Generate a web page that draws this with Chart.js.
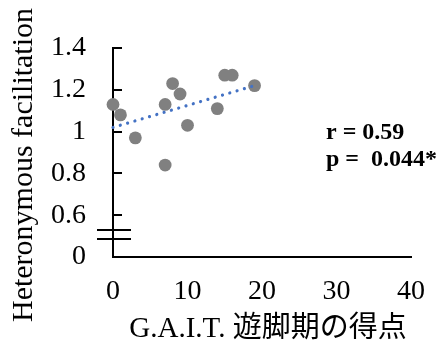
<!DOCTYPE html>
<html>
<head>
<meta charset="utf-8">
<script src="https://cdn.jsdelivr.net/npm/chart.js@4/dist/chart.umd.min.js"></script>
<style>
  html, body { margin: 0; padding: 0; background: #fff; }
  #wrap { width: 443px; height: 347px; position: relative; }
</style>
</head>
<body>
<div id="wrap"><canvas id="chart"></canvas></div>
<script>
// data
const gaitScores = [0, 1, 3, 7, 7, 8, 9, 10, 14, 15, 16, 19];
const facilitation = [1.13, 1.08, 0.97, 0.84, 1.13, 1.23, 1.18, 1.03, 1.11, 1.27, 1.27, 1.22];
const trendX = [0, 19];
const trendY = [1.02, 1.22];
const yTickValues = [0.4, 0.6, 0.8, 1.0, 1.2, 1.4];
const yTickLabels = ['0', '0.6', '0.8', '1', '1.2', '1.4'];
const xTickValues = [0, 10, 20, 30, 40];
const statLines = ['r = 0.59', 'p =  0.044*'];
const xTitle = 'G.A.I.T. 遊脚期の得点';
const yTitle = 'Heteronymous facilitation';

const serif = "'Liberation Serif', 'Times New Roman', serif";

// inward ticks, axis break, stats and titles
const extras = {
    id: 'extras',
    afterDraw(chart) {
        const ctx = chart.ctx;
        const xs = chart.scales.x, ys = chart.scales.y;
        const x0 = xs.getPixelForValue(0);
        ctx.save();
        ctx.strokeStyle = '#000';
        ctx.lineWidth = 2;
        // y ticks pointing right
        yTickValues.slice(1).forEach(v => {
            const y = Math.round(ys.getPixelForValue(v));
            ctx.beginPath();
            ctx.moveTo(x0, y);
            ctx.lineTo(x0 + 9, y);
            ctx.stroke();
        });
        // break marks
        [0.528, 0.485].forEach(v => {
            const y = Math.round(ys.getPixelForValue(v));
            ctx.beginPath();
            ctx.moveTo(x0 - 16, y);
            ctx.lineTo(x0 + 18, y);
            ctx.stroke();
        });

        ctx.fillStyle = '#000';
        ctx.font = 'bold 24px ' + serif;
        ctx.textAlign = 'left';
        ctx.textBaseline = 'alphabetic';
        ctx.fillText(statLines[0], 326, 139);
        ctx.fillText(statLines[1], 326, 166);

        ctx.font = "29px 'Liberation Serif', 'Noto Sans CJK JP', serif";
        ctx.textAlign = 'center';
        ctx.fillText(xTitle, 268, 337);

        ctx.translate(32, 165);
        ctx.rotate(-Math.PI / 2);
        ctx.font = '30px ' + serif;
        ctx.fillText(yTitle, 0, 0);
        ctx.restore();
    }
};

new Chart(document.getElementById('chart'), {
    data: {
        datasets: [
            {
                type: 'line',
                data: trendX.map((x, i) => ({ x: x, y: trendY[i] })),
                borderColor: '#4472C4',
                borderWidth: 3.2,
                borderDash: [0.01, 7.6],
                borderCapStyle: 'round',
                pointRadius: 0,
                fill: false,
                clip: false,
                order: 0
            },
            {
                type: 'scatter',
                data: gaitScores.map((x, i) => ({ x: x, y: facilitation[i] })),
                backgroundColor: '#808080',
                borderColor: '#808080',
                borderWidth: 0,
                pointRadius: 6.4,
                clip: false,
                order: 1
            }
        ]
    },
    options: {
        responsive: true,
        maintainAspectRatio: false,
        animation: false,
        layout: { padding: { top: 48, right: 29, left: 0, bottom: 0 } },
        plugins: { legend: { display: false }, tooltip: { enabled: false } },
        scales: {
            x: {
                type: 'linear',
                min: 0,
                max: 40,
                afterBuildTicks: s => { s.ticks = xTickValues.map(v => ({ value: v })); },
                afterFit: s => { s.height = 90; },
                grid: { display: false, drawTicks: false },
                border: { display: true, color: '#000', width: 2 },
                ticks: { color: '#000', font: { family: serif, size: 28 }, padding: 18, maxRotation: 0 }
            },
            y: {
                type: 'linear',
                min: 0.4,
                max: 1.4,
                afterBuildTicks: s => { s.ticks = yTickValues.map(v => ({ value: v })); },
                afterFit: s => { s.width = 113; },
                grid: { display: false, drawTicks: false },
                border: { display: true, color: '#000', width: 2 },
                ticks: {
                    color: '#000',
                    font: { family: serif, size: 28 },
                    padding: 27,
                    callback: (v) => {
                        const i = yTickValues.findIndex(t => Math.abs(t - v) < 1e-6);
                        return i >= 0 ? yTickLabels[i] : '';
                    }
                }
            }
        }
    },
    plugins: [extras]
});
</script>
</body>
</html>
